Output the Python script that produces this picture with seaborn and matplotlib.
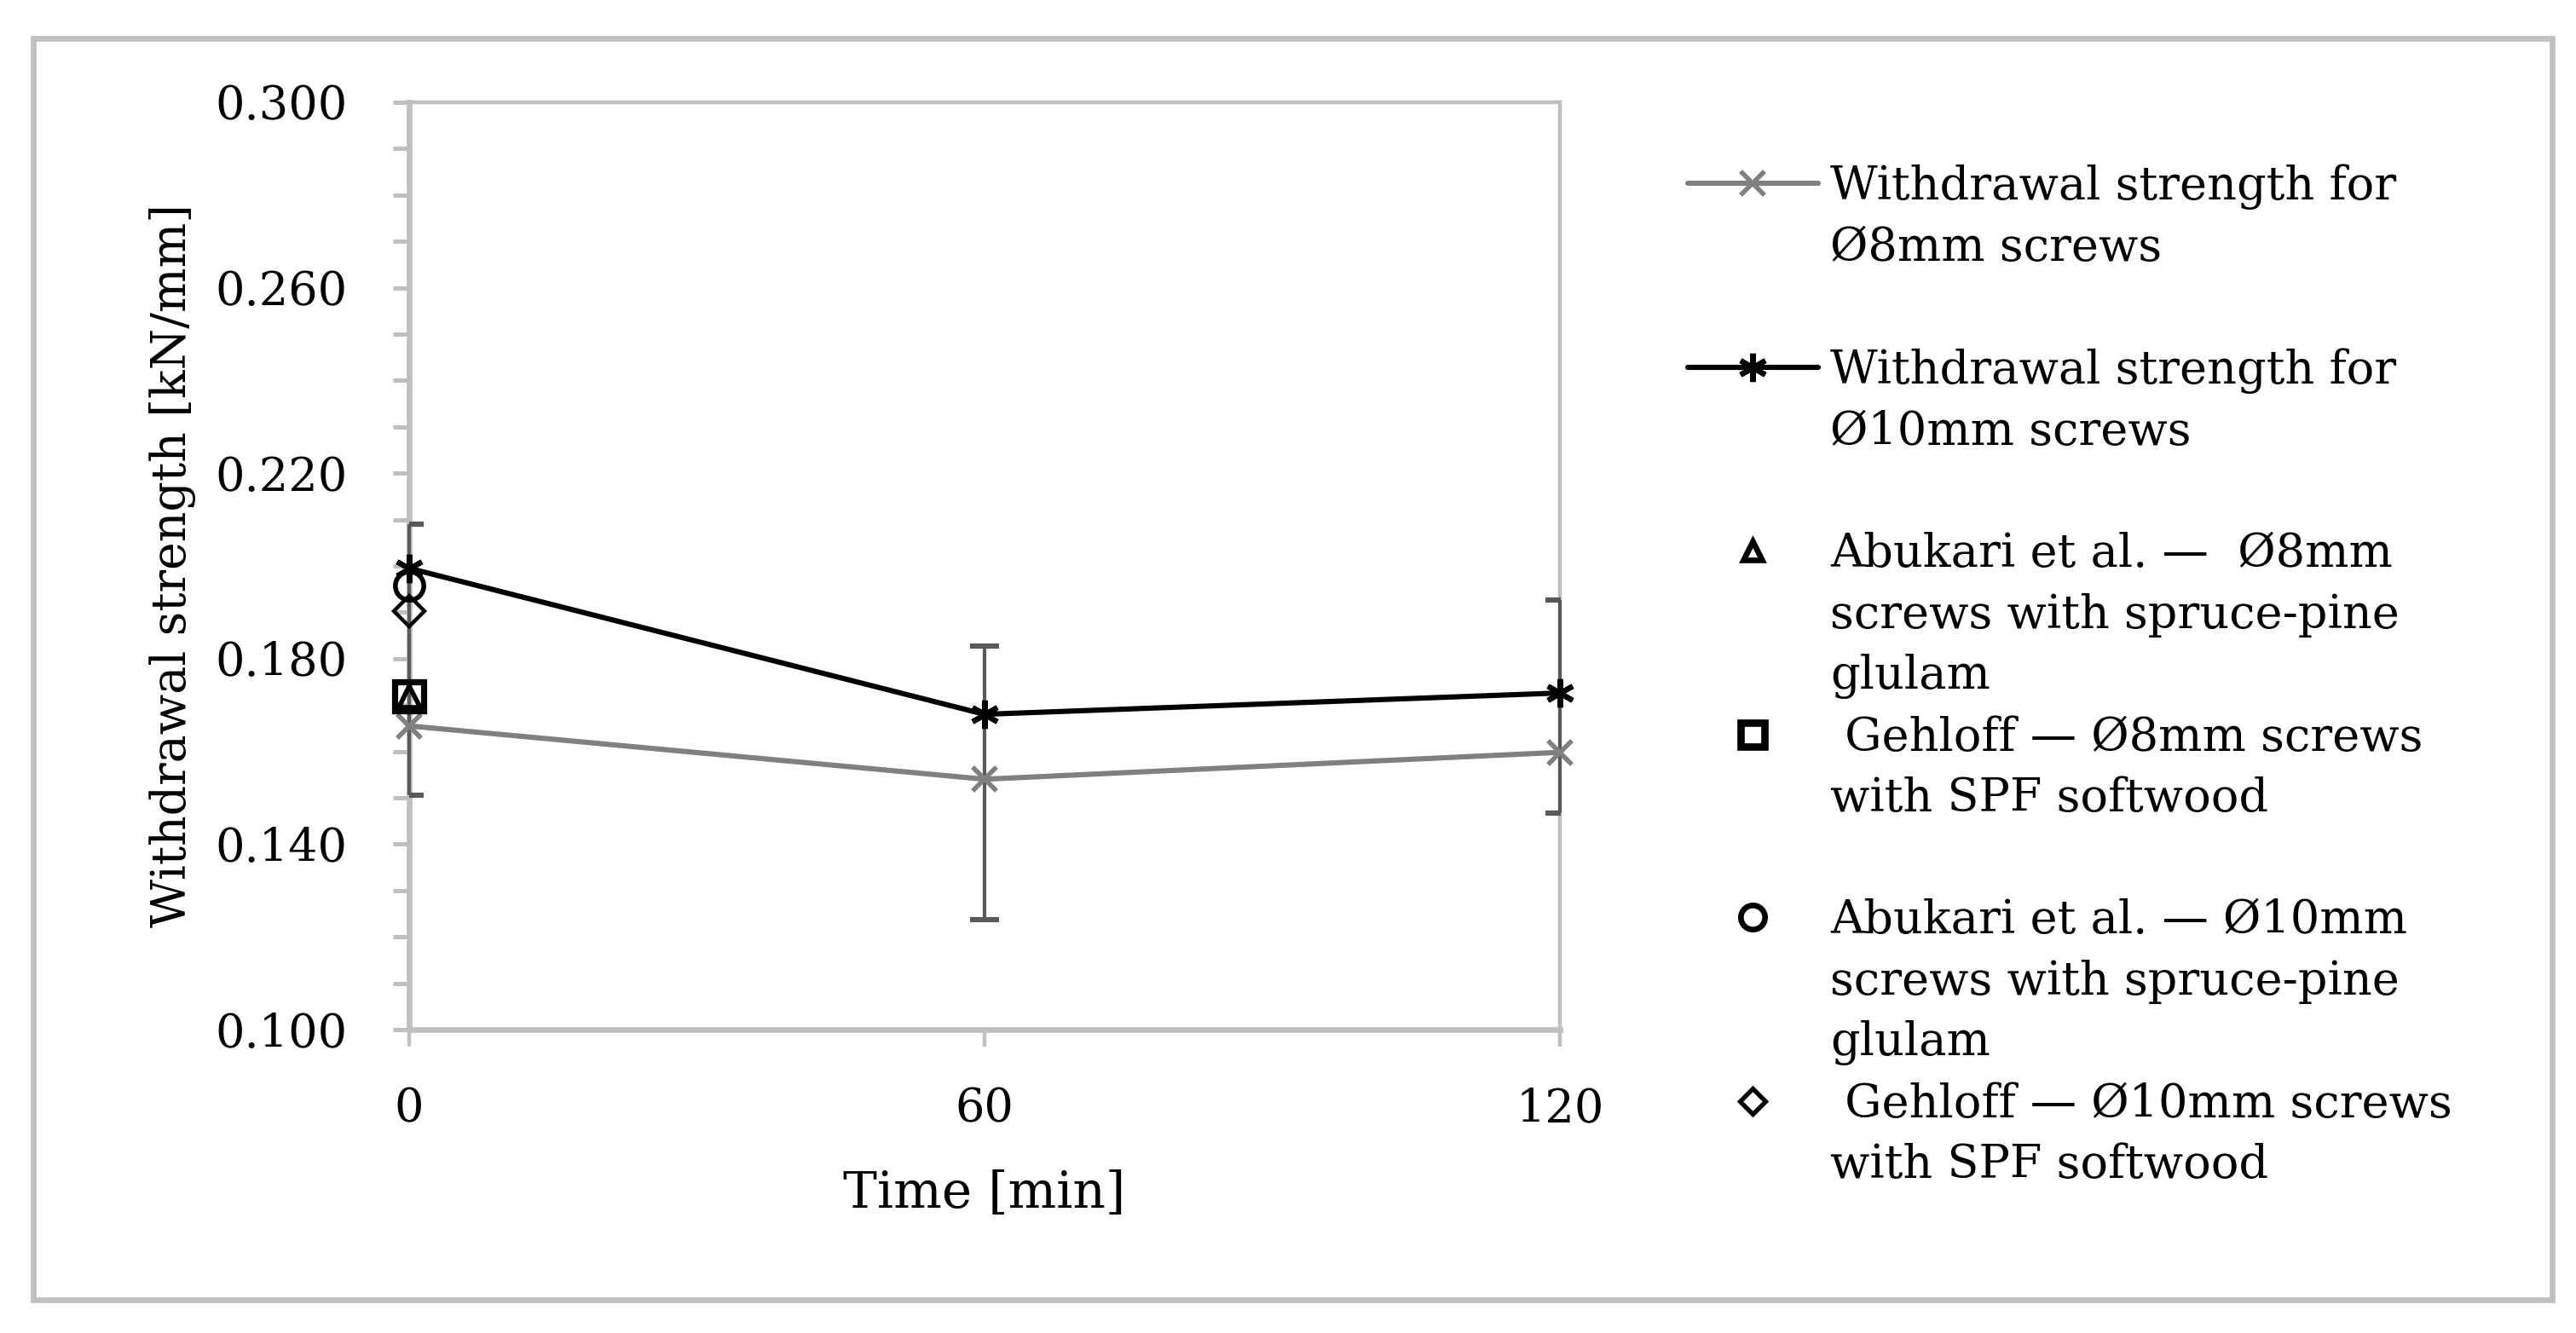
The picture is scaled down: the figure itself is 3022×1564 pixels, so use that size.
import pandas as pd
import seaborn as sns
import matplotlib.pyplot as plt
from matplotlib.lines import Line2D
from matplotlib.patches import Rectangle
from matplotlib.ticker import MultipleLocator, FormatStrFormatter

# data
time_min = [0, 60, 120]
strength_8mm = [0.1655, 0.154, 0.1598]
strength_10mm = [0.1995, 0.168, 0.1726]
# error bar ranges as drawn (both series overlap into one bar per time)
bar_low = [0.1505, 0.1237, 0.1467]
bar_high = [0.209, 0.1828, 0.1926]

ref_time = [0, 0, 0, 0]
ref_values = [0.1719, 0.1719, 0.1958, 0.1902]
ref_markers = ['^', 's', 'o', 'D']
ref_sizes = [9, 12, 12, 9]
ref_mew = [2.0, 2.6, 2.0, 1.6]

y_ticks = [0.100, 0.140, 0.180, 0.220, 0.260, 0.300]

series_labels = ['Withdrawal strength for\nØ8mm screws',
                 'Withdrawal strength for\nØ10mm screws']
ref_labels = ['Abukari et al. —  Ø8mm\nscrews with spruce-pine\nglulam',
              ' Gehloff — Ø8mm screws\nwith SPF softwood',
              'Abukari et al. — Ø10mm\nscrews with spruce-pine\nglulam',
              ' Gehloff — Ø10mm screws\nwith SPF softwood']

df = pd.DataFrame({'time': time_min * 2,
                   'strength': strength_8mm + strength_10mm,
                   'series': ['8mm'] * 3 + ['10mm'] * 3})

sns.set_style('white')
plt.rcParams['font.family'] = ['DejaVu Serif', 'Liberation Serif']
plt.rcParams['text.color'] = 'black'
plt.rcParams['axes.labelcolor'] = 'black'

fig = plt.figure(figsize=(15.11, 7.82), dpi=200)
ax = fig.add_axes([0.1588, 0.2276, 0.6056 - 0.1588, 0.9233 - 0.2276])

grid_grey = '#bfbfbf'
err_grey = '#595959'
asterisk = (6, 2, 0)

# error bars
mid = [(lo + hi) / 2 for lo, hi in zip(bar_low, bar_high)]
half = [(hi - lo) / 2 for lo, hi in zip(bar_low, bar_high)]
eb = ax.errorbar(time_min, mid, yerr=half, fmt='none', ecolor=err_grey,
                 elinewidth=1.5, capsize=6, capthick=2.2, zorder=3)
for coll in eb[2]:
    coll.set_clip_on(False)

sns.lineplot(data=df[df.series == '8mm'], x='time', y='strength', ax=ax,
             color='#808080', lw=2.2, marker='x', ms=10, mew=2,
             mec='#808080', clip_on=False, zorder=4, errorbar=None)
sns.lineplot(data=df[df.series == '10mm'], x='time', y='strength', ax=ax,
             color='black', lw=2.2, marker=asterisk, ms=12, mew=2.2,
             mec='black', clip_on=False, zorder=4, errorbar=None)

for t, v, m, s, w in zip(ref_time, ref_values, ref_markers, ref_sizes, ref_mew):
    ax.plot([t], [v], linestyle='none', marker=m, ms=s, mew=w,
            mfc='none', mec='black', clip_on=False, zorder=5)

ax.set_xlim(0, 120)
ax.set_ylim(y_ticks[0], y_ticks[-1])
ax.set_xticks(time_min)
ax.set_yticks(y_ticks)
ax.yaxis.set_minor_locator(MultipleLocator(0.01))
ax.yaxis.set_major_formatter(FormatStrFormatter('%.3f'))

ax.tick_params(axis='x', which='major', direction='out', length=7.2, width=1.6,
               color=grid_grey, labelcolor='black', labelsize=19.5, pad=17, bottom=True)
ax.tick_params(axis='y', which='both', direction='out', length=7, width=1.8,
               color=grid_grey, labelcolor='black', labelsize=19.5, pad=19, left=True)

for side in ['left', 'bottom']:
    ax.spines[side].set_color(grid_grey)
    ax.spines[side].set_linewidth(2.4)
for side in ['top', 'right']:
    ax.spines[side].set_color(grid_grey)
    ax.spines[side].set_linewidth(1.6)
ax.spines['bottom'].set_zorder(2)
ax.spines['left'].set_zorder(2)

ax.set_xlabel('Time [min]', fontsize=21.5)
ax.set_ylabel('Withdrawal strength [kN/mm]', fontsize=20)
ax.xaxis.set_label_coords(0.5, -0.15)
ax.yaxis.set_label_coords(-0.185, 0.5)

# legend, one row per text line, handle on the first line of each entry
handles_main = [
    Line2D([], [], color='#808080', lw=2.2, marker='x', ms=10, mew=2),
    Line2D([], [], color='black', lw=2.2, marker=asterisk, ms=12, mew=2.2),
]
for m, s, w in zip(ref_markers, ref_sizes, ref_mew):
    handles_main.append(Line2D([], [], linestyle='none', marker=m, ms=s * 0.85,
                               mew=w * 1.2, mfc='none', mec='black'))
rows_h, rows_t = [], []
for h, lab in zip(handles_main, series_labels + ref_labels):
    lines = lab.split('\n')
    lines += [' '] * (3 - len(lines))
    for i, txt in enumerate(lines):
        rows_h.append(h if i == 0 else Line2D([], [], linestyle='none'))
        rows_t.append(txt)

ax.legend(rows_h, rows_t, loc='upper left', bbox_to_anchor=(1980 / 3022, 1 - 192 / 1564),
          bbox_transform=fig.transFigure, frameon=False, borderpad=0, borderaxespad=0,
          fontsize=19.5, handlelength=2.82, handletextpad=0.26, labelspacing=0.36)

fig.patches.append(Rectangle((39 / 3022, 1 - 1525 / 1564), (2994 - 39) / 3022,
                             (1525 - 45) / 1564, transform=fig.transFigure,
                             fill=False, edgecolor=grid_grey, linewidth=2.4))

fig.savefig('out.png', dpi=200)
